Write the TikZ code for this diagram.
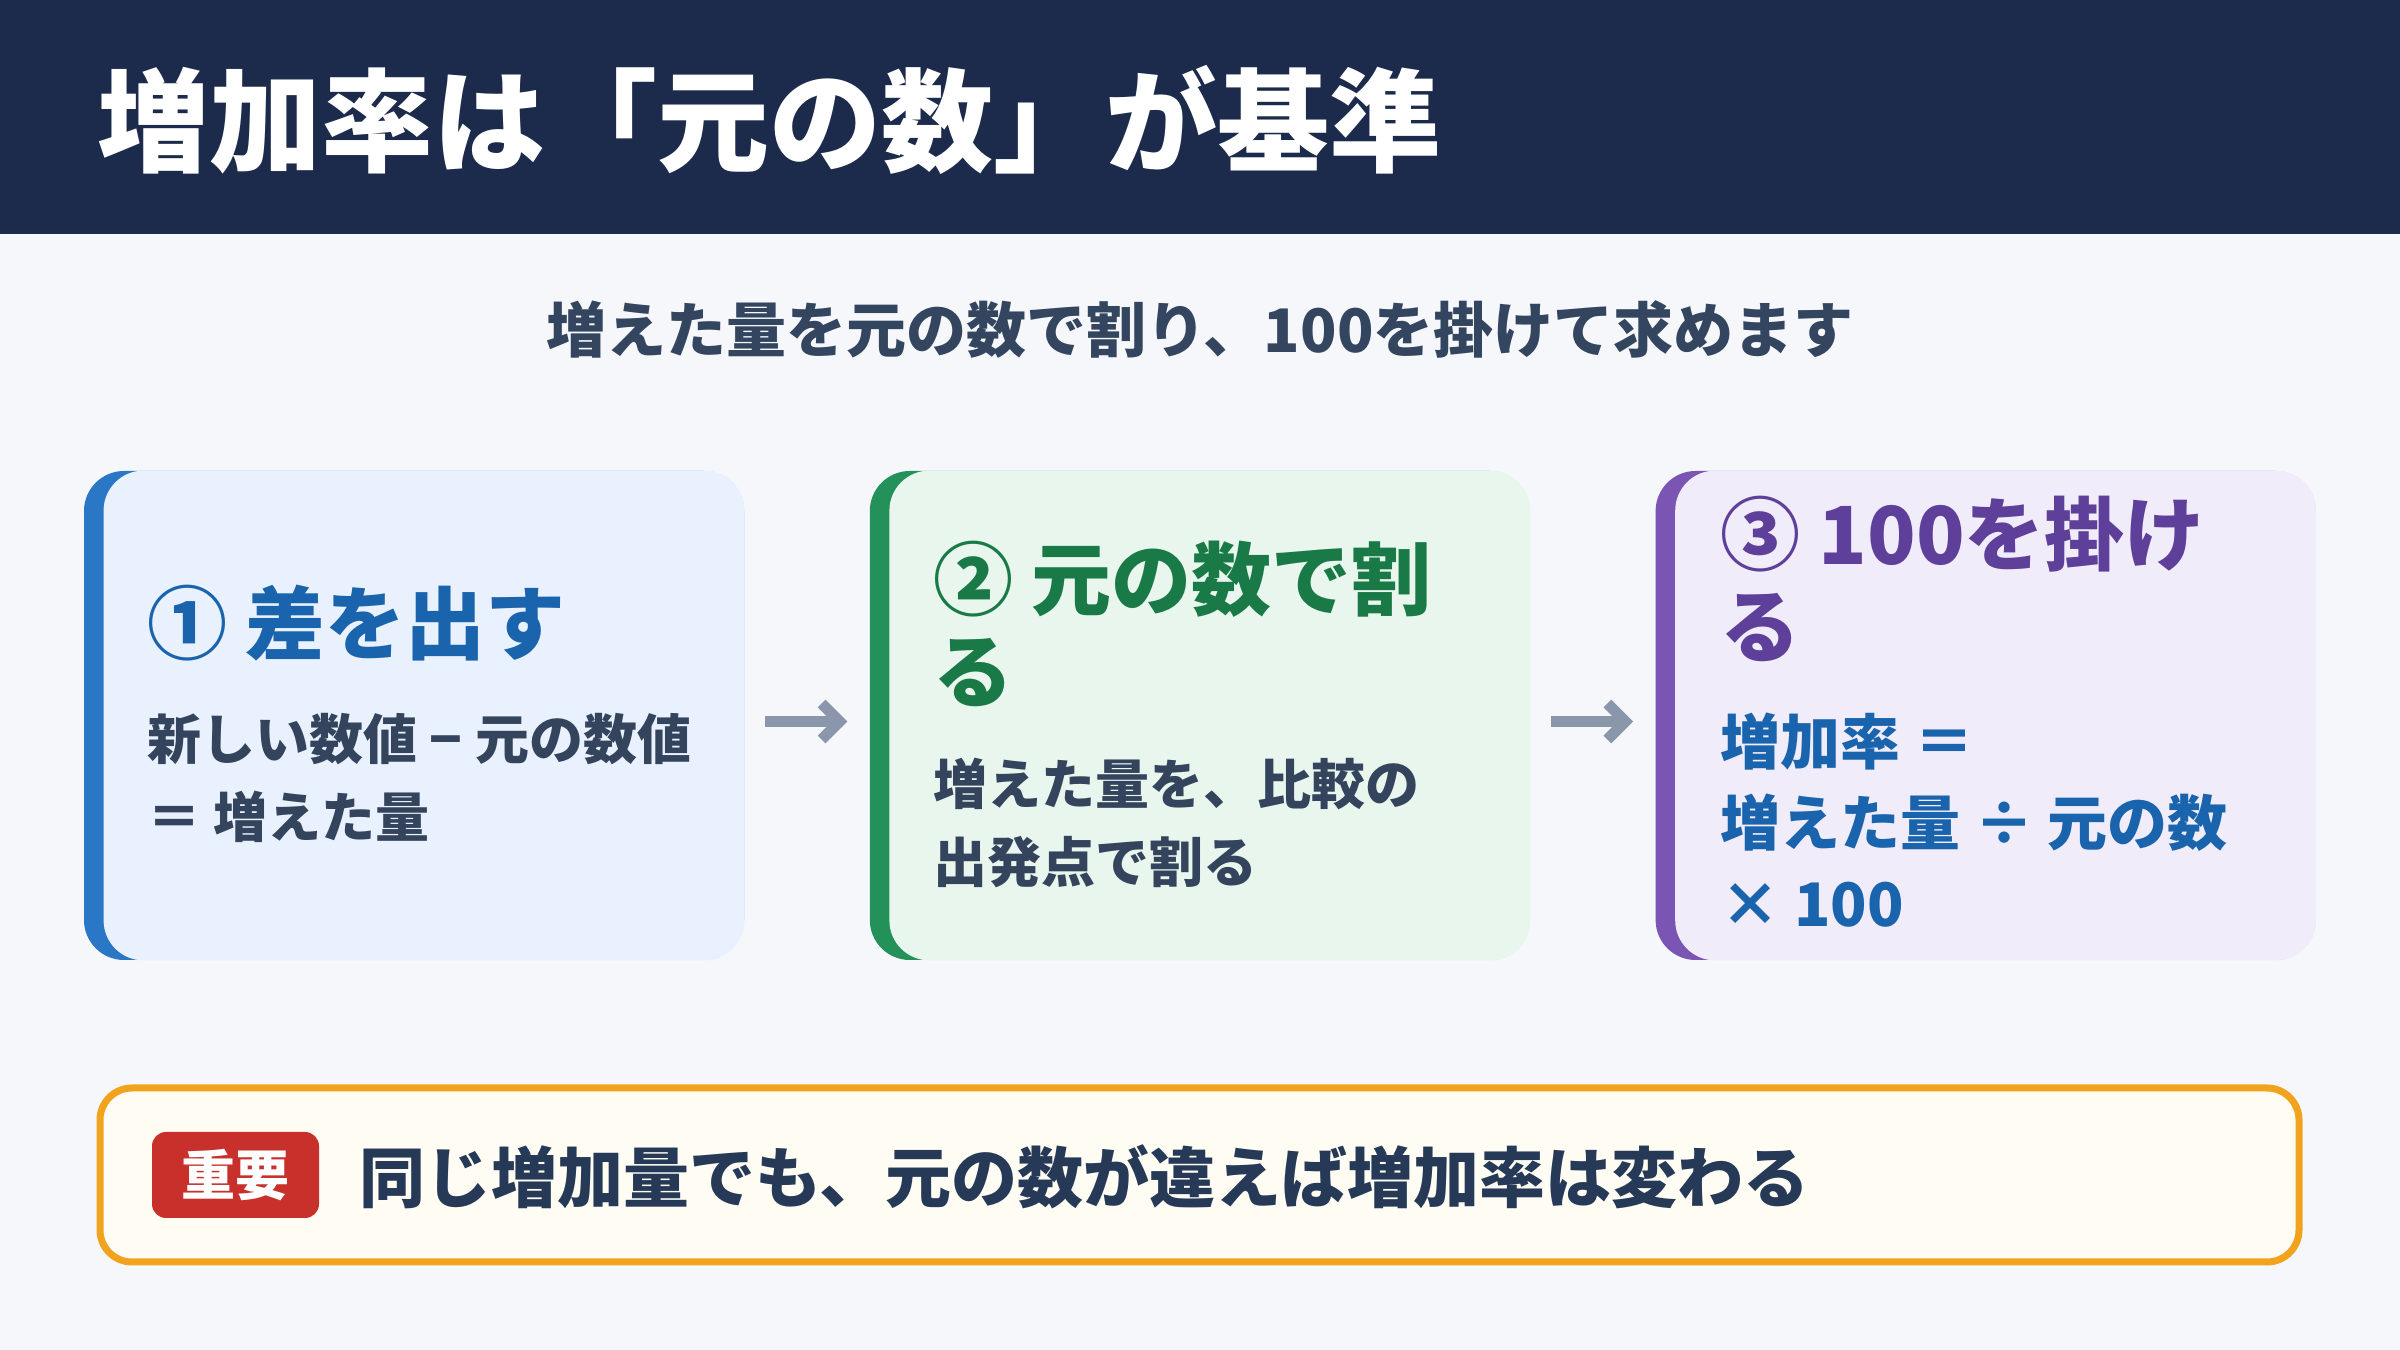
\documentclass[tikz,border=0pt]{standalone}
\usepackage{fontspec}
\usepackage{xcolor}
\usetikzlibrary{arrows.meta, positioning}
\setmainfont{Noto Sans CJK JP}
\newfontfamily\heavyfont{Noto Sans CJK JP Black}

\definecolor{headerbg}{HTML}{1C2B4C}
\definecolor{pagebg}{HTML}{F5F7FB}
\definecolor{subtext}{HTML}{34455F}
\definecolor{bodytext}{HTML}{34445C}
\definecolor{blueline}{HTML}{2A77C6}
\definecolor{bluefill}{HTML}{E8F1FD}
\definecolor{bluetext}{HTML}{1A64AD}
\definecolor{greenline}{HTML}{25915A}
\definecolor{greenfill}{HTML}{E9F6EE}
\definecolor{greentext}{HTML}{1A7A47}
\definecolor{purpleline}{HTML}{7A55B4}
\definecolor{purplefill}{HTML}{F1ECFA}
\definecolor{purpletext}{HTML}{5E3F99}
\definecolor{arrowgray}{HTML}{8A97AB}
\definecolor{noteline}{HTML}{F2A31E}
\definecolor{notefill}{HTML}{FFFCF4}
\definecolor{notetext}{HTML}{263A58}
\definecolor{badgered}{HTML}{C8302C}

\tikzstyle{card} = [rectangle, rounded corners=20pt, minimum width=330pt, minimum height=244.5pt, inner sep=0pt]
\tikzstyle{cardfill} = [rounded corners=20pt]
\tikzstyle{steptitle} = [anchor=base west, align=left, inner sep=0pt, font=\bfseries\fontsize{40}{46}\selectfont]
\tikzstyle{stepbody} = [anchor=base west, align=left, inner sep=0pt, font=\bfseries\fontsize{27}{39}\selectfont, text=bodytext]
\tikzstyle{flowarrow} = [line width=5.5pt, arrowgray, -{Straight Barb[length=9pt,width=18pt]}]

\begin{document}
\begin{tikzpicture}[x=0.5pt, y=0.5pt]

% Background
\fill[pagebg] (0,0) rectangle (2400,1350);
\useasboundingbox (0,0) rectangle (2400,1350);

% Header
\fill[headerbg] (0,1116) rectangle (2400,1350);
\node (title) [anchor=base west, inner sep=0pt, text=white, font=\heavyfont\fontsize{56}{60}\selectfont] at (97,1186) {増加率は「元の数」が基準};
\node (subtitle) [anchor=base, inner sep=0pt, text=subtext, font=\bfseries\fontsize{30}{36}\selectfont] at (1200,997) {増えた量を元の数で割り、100を掛けて求めます};

% Steps (base anchor = last line)
\node (step1) [card, fill=blueline] at (414,634.5) {};
\node (step2) [card, fill=greenline, right=62.5pt of step1] {};
\node (step3) [card, fill=purpleline, right=62.5pt of step2] {};
\fill[bluefill, cardfill] ([xshift=10pt]step1.south west) rectangle (step1.north east);
\fill[greenfill, cardfill] ([xshift=10pt]step2.south west) rectangle (step2.north east);
\fill[purplefill, cardfill] ([xshift=10pt]step3.south west) rectangle (step3.north east);

\node (step1-title) [steptitle, text=bluetext] at (147,696) {① 差を出す};
\node (step1-body) [stepbody] at (147,512) {新しい数値 − 元の数値\\＝ 増えた量};

\node (step2-title) [steptitle, text=greentext] at (933,648) {② 元の数で割\\る};
\node (step2-body) [stepbody] at (933,467) {増えた量を、比較の\\出発点で割る};

\node (step3-title) [steptitle, text=purpletext] at (1720,693) {③ 100を掛け\\る};
\node (step3-body) [stepbody, text=bluetext, font=\bfseries\fontsize{30}{40.5}\selectfont] at (1720,423) {増加率 ＝\\増えた量 ÷ 元の数\\× 100};

\draw[flowarrow, shorten <=10.5pt, shorten >=11pt] ([yshift=-3pt]step1.east) -- ([yshift=-3pt]step2.west);
\draw[flowarrow, shorten <=10.5pt, shorten >=11pt] ([yshift=-3pt]step2.east) -- ([yshift=-3pt]step3.west);

% Note
\node (note) [rectangle, draw=noteline, fill=notefill, line width=3.5pt, rounded corners=16pt, minimum width=1099.5pt, minimum height=87pt] at (1199.5,175) {};
\node (badge) [rectangle, fill=badgered, rounded corners=7pt, minimum width=83.5pt, minimum height=43pt, text=white, font=\bfseries\fontsize{27}{30}\selectfont] at (235.5,175) {重要};
\node (notetext) [anchor=base west, inner sep=0pt, text=notetext, font=\bfseries\fontsize{33}{40}\selectfont] at (359,147) {同じ増加量でも、元の数が違えば増加率は変わる};

\end{tikzpicture}
\end{document}
